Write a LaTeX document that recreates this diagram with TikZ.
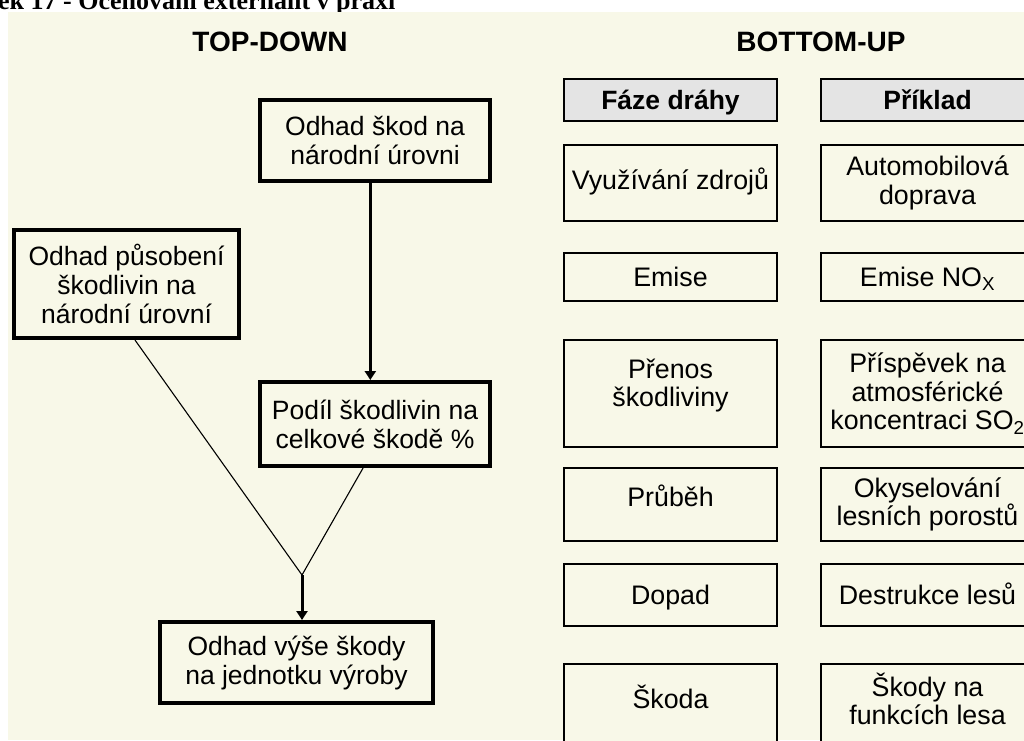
\documentclass[tikz,border=0pt]{standalone}
\usepackage{fontspec}
\setmainfont{Liberation Sans}
\newfontfamily\capfont{Liberation Serif}
\usetikzlibrary{arrows.meta,calc}
\definecolor{bgc}{RGB}{248,248,232}
\definecolor{hdrc}{RGB}{228,228,228}
\tikzset{
  tbox/.style={draw=black,line width=4pt,fill=bgc,align=center,inner sep=0pt,
    font=\fontsize{26.5}{29}\selectfont},
  rbox/.style={draw=black,line width=2pt,fill=bgc,align=center,inner sep=0pt,
    minimum width=213pt,font=\fontsize{26.8}{28.5}\selectfont},
  oneline/.style={text height=23pt,text depth=4pt},
  hbox/.style={rbox,fill=hdrc,font=\bfseries\fontsize{26.5}{28}\selectfont},
  ttl/.style={font=\bfseries\fontsize{28}{30}\selectfont,inner sep=0pt,anchor=base},
  txt/.style={align=center,inner sep=0pt,font=\fontsize{26.8}{28.5}\selectfont},
  thickarr/.style={line width=3pt,-{Triangle[length=9pt,width=11pt]}},
  thinline/.style={line width=1.1pt}
}
\begin{document}
\begin{tikzpicture}[x=1pt,y=-1pt]
\useasboundingbox (0,0) rectangle (1024,740);
\clip (0,0) rectangle (1024,740);
% caption (cut off at the top)
\node[anchor=base west,inner sep=0pt,font=\capfont\bfseries\fontsize{26}{30}\selectfont] (cap) at (-2,9) {ek 17 - Oceňování externalit v praxi};
% panel background
\fill[bgc] (8,12) rectangle (1024,740);
% titles
\node[ttl] (td) at (270,51) {TOP-DOWN};
\node[ttl] (bu) at (821,51) {BOTTOM-UP};
% TOP-DOWN boxes
\node[tbox,minimum width=230pt,minimum height=81pt] (A) at (375,140.5) {Odhad škod na\\národní úrovni};
\node[tbox,minimum width=225pt,minimum height=108pt] (B) at (126.5,284) {Odhad působení\\škodlivin na\\národní úrovní};
\node[tbox,minimum width=230pt,minimum height=84pt] (C) at (375,424) {Podíl škodlivin na\\celkové škodě \%};
\node[tbox,minimum width=273pt,minimum height=81pt] (D) at (296.5,662.5) {Odhad výše škody\\na jednotku výroby};
\coordinate (J) at (302,575);
\draw[thickarr] ($(A.south west)!0.48!(A.south east)$) -- ($(C.north west)!0.48!(C.north east)$);
\draw[thinline] ($(B.south west)!0.537!(B.south east)$) -- (J);
\draw[thinline] ($(C.south west)!0.449!(C.south east)$) -- (J);
\draw[thickarr] (J) -- (J |- D.north);
% BOTTOM-UP column 1
\node[hbox,oneline,minimum height=42pt] (h1) at (670.5,100) {Fáze dráhy};
\node[rbox,oneline,text depth=10pt,minimum height=76pt] (p1) at (670.5,183) {Využívání zdrojů};
\node[rbox,oneline,minimum height=48pt] (p2) at (670.5,277) {Emise};
\node[rbox,minimum height=107pt] (p3) at (670.5,393.5) {};
\node[txt] (p3t) at ($(p3.center)+(0,-8)$) {Přenos\\škodliviny};
\node[rbox,oneline,text depth=19pt,minimum height=73pt] (p4) at (670.5,504.5) {Průběh};
\node[rbox,oneline,minimum height=62pt] (p5) at (670.5,595) {Dopad};
\node[rbox,minimum height=100pt] (p6) at (670.5,714) {};
\node[txt,oneline] (p6t) at ($(p6.north)+(0,36)$) {Škoda};
% BOTTOM-UP column 2
\node[hbox,oneline,minimum height=42pt] (h2) at (927.5,100) {Příklad};
\node[rbox,minimum height=76pt] (q1) at (927.5,183) {Automobilová\\doprava};
\node[rbox,oneline,minimum height=48pt] (q2) at (927.5,277) {Emise NO\textsubscript{X}};
\node[rbox,minimum height=107pt] (q3) at (927.5,393.5) {Příspěvek na\\atmosférické\\koncentraci SO\textsubscript{2}};
\node[rbox,minimum height=73pt] (q4) at (927.5,504.5) {Okyselování\\lesních porostů};
\node[rbox,oneline,minimum height=62pt] (q5) at (927.5,595) {Destrukce lesů};
\node[rbox,minimum height=100pt] (q6) at (927.5,714) {};
\node[txt] (q6t) at ($(q6.north)+(0,36)$) {Škody na\\funkcích lesa};
\end{tikzpicture}
\end{document}
